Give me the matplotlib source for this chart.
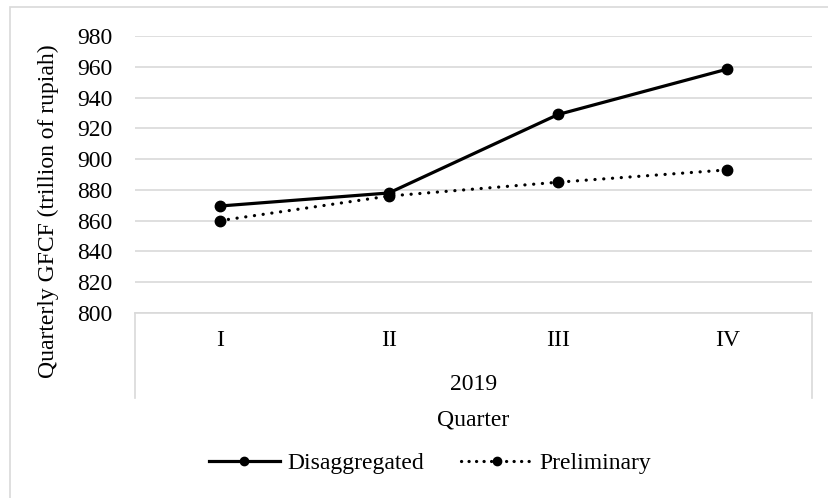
import matplotlib
matplotlib.use("Agg")
import matplotlib.pyplot as plt
from matplotlib.patches import Rectangle
from matplotlib.lines import Line2D

# -----------------------------
# Data
# -----------------------------
quarters = ["I", "II", "III", "IV"]
year_label = "2019"
disaggregated = [869.5, 878.0, 929.0, 958.5]
preliminary = [860.0, 876.0, 885.0, 893.0]
y_ticks = [800, 820, 840, 860, 880, 900, 920, 940, 960, 980]

# -----------------------------
# Style
# -----------------------------
plt.rcParams.update({
    "font.family": ["Liberation Serif", "DejaVu Serif"],
    "font.size": 17,
})

W, H = 829, 498
fig = plt.figure(figsize=(W / 100, H / 100), dpi=100)

grid_col = "#d9d9d9"

# outer chart border (left/top visible in the reference)
fig.patches.append(Rectangle((10 / W, -0.05), 1.2, 1 - 7 / H + 0.05,
                             transform=fig.transFigure, fill=False,
                             edgecolor=grid_col, lw=1.2))

left, right = 135 / W, 812 / W
bottom, top = 1 - 313 / H, 1 - 36 / H
ax = fig.add_axes([left, bottom, right - left, top - bottom])

x = [i + 0.5 for i in range(len(quarters))]

ax.plot(x, disaggregated, color="black", lw=2.3, marker="o", ms=7.5,
        solid_capstyle="round", label="Disaggregated")
ax.plot(x, preliminary, color="black", lw=2.3, marker="o", ms=7.5,
        linestyle=(0, (0.05, 2.7)), dash_capstyle="round", label="Preliminary")

ax.set_xlim(0, len(quarters))
ax.set_ylim(y_ticks[0], y_ticks[-1])
ax.set_yticks(y_ticks)
ax.yaxis.grid(True, color=grid_col, lw=1.2)
ax.set_axisbelow(True)
for s in ["top", "right", "left"]:
    ax.spines[s].set_visible(False)
ax.spines["bottom"].set_color(grid_col)
ax.spines["bottom"].set_linewidth(1.2)
ax.tick_params(axis="y", length=0, pad=16)
ax.set_xticks(x)
ax.set_xticklabels(quarters)
ax.tick_params(axis="x", length=0, pad=12)

# multi-level category box
box_bottom = 1 - 398 / H
for xf in (left, right):
    fig.add_artist(Line2D([xf, xf], [box_bottom, bottom], transform=fig.transFigure,
                          color=grid_col, lw=1.2))

fig.text((left + right) / 2, 1 - 385 / H, year_label, ha="center", va="center")
fig.text((left + right) / 2, 1 - 420 / H, "Quarter", ha="center", va="center")
fig.text(48 / W, 1 - 211 / H, "Quarterly GFCF (trillion of rupiah)",
         rotation=90, ha="center", va="center")

handles = [
    Line2D([], [], color="black", lw=2.3, marker="o", ms=6),
    Line2D([], [], color="black", lw=2.3, marker="o", ms=6,
           linestyle=(0, (0.05, 2.3)), dash_capstyle="round"),
]
fig.legend(handles, ["Disaggregated", "Preliminary"], loc="center",
           bbox_to_anchor=(430 / W, 1 - 463 / H), ncol=2, frameon=False,
           handlelength=3.0, handletextpad=0.3, columnspacing=1.6)

fig.savefig("out.png", dpi=100)
